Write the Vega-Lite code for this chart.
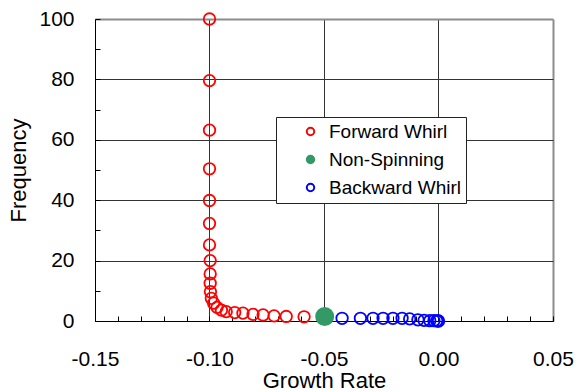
{
  "$schema": "https://vega.github.io/schema/vega-lite/v6.json",
  "width": 458,
  "height": 302,
  "autosize": {"type": "none"},
  "padding": {"left": 95, "top": 19, "right": 33, "bottom": 71},
  "background": "white",
  "config": {
    "view": {"stroke": null},
    "font": "Liberation Sans",
    "axis": {"labelFont": "Liberation Sans", "titleFont": "Liberation Sans", "labelColor": "black", "titleColor": "black", "titleFontWeight": "normal"}
  },
  "data": {
    "values": [
      {"x": -0.1, "y": 100, "type": "Forward Whirl"},
      {"x": -0.1, "y": 79.6, "type": "Forward Whirl"},
      {"x": -0.1, "y": 63.2, "type": "Forward Whirl"},
      {"x": -0.1, "y": 50.4, "type": "Forward Whirl"},
      {"x": -0.1, "y": 39.9, "type": "Forward Whirl"},
      {"x": -0.1, "y": 32.3, "type": "Forward Whirl"},
      {"x": -0.1, "y": 25.2, "type": "Forward Whirl"},
      {"x": -0.0997, "y": 20.0, "type": "Forward Whirl"},
      {"x": -0.0997, "y": 15.6, "type": "Forward Whirl"},
      {"x": -0.0997, "y": 12.5, "type": "Forward Whirl"},
      {"x": -0.0996, "y": 9.7, "type": "Forward Whirl"},
      {"x": -0.0992, "y": 7.5, "type": "Forward Whirl"},
      {"x": -0.0982, "y": 5.9, "type": "Forward Whirl"},
      {"x": -0.0967, "y": 4.5, "type": "Forward Whirl"},
      {"x": -0.0948, "y": 3.6, "type": "Forward Whirl"},
      {"x": -0.0927, "y": 3.1, "type": "Forward Whirl"},
      {"x": -0.089, "y": 2.8, "type": "Forward Whirl"},
      {"x": -0.0854, "y": 2.6, "type": "Forward Whirl"},
      {"x": -0.081, "y": 2.2, "type": "Forward Whirl"},
      {"x": -0.0766, "y": 2.0, "type": "Forward Whirl"},
      {"x": -0.0718, "y": 1.7, "type": "Forward Whirl"},
      {"x": -0.0665, "y": 1.5, "type": "Forward Whirl"},
      {"x": -0.0587, "y": 1.4, "type": "Forward Whirl"},
      {"x": -0.0497, "y": 1.5, "type": "Non-Spinning"},
      {"x": -0.0421, "y": 0.9, "type": "Backward Whirl"},
      {"x": -0.0341, "y": 0.9, "type": "Backward Whirl"},
      {"x": -0.0286, "y": 0.9, "type": "Backward Whirl"},
      {"x": -0.0242, "y": 0.9, "type": "Backward Whirl"},
      {"x": -0.0199, "y": 0.9, "type": "Backward Whirl"},
      {"x": -0.0159, "y": 0.9, "type": "Backward Whirl"},
      {"x": -0.0126, "y": 0.7, "type": "Backward Whirl"},
      {"x": -0.009, "y": 0.4, "type": "Backward Whirl"},
      {"x": -0.0063, "y": 0.2, "type": "Backward Whirl"},
      {"x": -0.0038, "y": 0.1, "type": "Backward Whirl"},
      {"x": -0.002, "y": 0.1, "type": "Backward Whirl"},
      {"x": -0.0008, "y": 0.05, "type": "Backward Whirl"},
      {"x": -0.0002, "y": 0.03, "type": "Backward Whirl"},
      {"x": 0.0, "y": 0.0, "type": "Backward Whirl"}
    ]
  },
  "resolve": {"axis": {"x": "independent", "y": "independent"}},
  "layer": [
    {
      "mark": {"type": "point", "shape": "circle", "strokeWidth": 1.8, "opacity": 1},
      "encoding": {
        "x": {
          "field": "x", "type": "quantitative",
          "scale": {"domain": [-0.15, 0.05], "nice": false, "zero": false},
          "axis": {
            "orient": "bottom",
            "values": [-0.15, -0.1, -0.05, 0, 0.05],
            "labelExpr": "replace(format(datum.value, '.2f'), '\u2212', '-')",
            "title": "Growth Rate",
            "titleFontSize": 22,
            "titleBaseline": "alphabetic",
            "titleY": 66,
            "labelFontSize": 21,
            "labelPadding": 27,
            "ticks": false,
            "tickSize": 0,
            "domainColor": "black",
            "domainWidth": 1,
            "grid": true,
            "gridColor": {"condition": {"test": "datum.value > 0.04", "value": "#8c8c8c"}, "value": "#333333"},
            "gridWidth": {"condition": {"test": "datum.value > 0.04", "value": 2}, "value": 1},
            "labelFlush": false,
            "labelOverlap": false
          }
        },
        "y": {
          "field": "y", "type": "quantitative",
          "scale": {"domain": [0, 100], "nice": false},
          "axis": {
            "orient": "left",
            "values": [0, 20, 40, 60, 80, 100],
            "title": "Frequency",
            "titleFontSize": 22,
            "titleBaseline": "alphabetic",
            "titleX": -70,
            "titleAngle": -90,
            "labelFontSize": 21,
            "labelPadding": 21,
            "ticks": false,
            "tickSize": 0,
            "domainColor": "black",
            "domainWidth": 1,
            "grid": true,
            "gridColor": {"condition": {"test": "datum.value > 99", "value": "#8c8c8c"}, "value": "#333333"},
            "gridWidth": {"condition": {"test": "datum.value > 99", "value": 2}, "value": 1},
            "labelFlush": false,
            "labelOverlap": false
          }
        },
        "stroke": {
          "field": "type", "type": "nominal",
          "scale": {"domain": ["Forward Whirl", "Non-Spinning", "Backward Whirl"], "range": ["#ff0000", "#339966", "#0000ff"]},
          "legend": {
            "title": null,
            "orient": "none",
            "legendX": 181,
            "legendY": 98,
            "fillColor": "white",
            "strokeColor": "#222222",
            "padding": 5,
            "symbolOffset": 20,
            "labelOffset": 9,
            "labelFontSize": 19,
            "labelFont": "Liberation Sans",
            "labelColor": "black",
            "rowPadding": 8,
            "symbolSize": 55,
            "symbolStrokeWidth": 2,
            "symbolType": "circle"
          }
        },
        "fill": {
          "field": "type", "type": "nominal",
          "scale": {"domain": ["Forward Whirl", "Non-Spinning", "Backward Whirl"], "range": ["transparent", "#339966", "transparent"]},
          "legend": {
            "title": null,
            "orient": "none",
            "legendX": 181,
            "legendY": 98,
            "fillColor": "white",
            "strokeColor": "#222222",
            "padding": 5,
            "symbolOffset": 20,
            "labelOffset": 9,
            "labelFontSize": 19,
            "labelFont": "Liberation Sans",
            "labelColor": "black",
            "rowPadding": 8,
            "symbolSize": 55,
            "symbolStrokeWidth": 2,
            "symbolType": "circle"
          }
        },
        "size": {
          "condition": {"test": "datum.type === 'Non-Spinning'", "value": 296},
          "value": 132
        }
      }
    },
    {
      "mark": {"type": "point", "shape": "circle", "opacity": 0, "size": 1},
      "encoding": {
        "x": {
          "field": "x", "type": "quantitative",
          "axis": {
            "orient": "bottom",
            "values": [-0.15, -0.14, -0.13, -0.12, -0.11, -0.1, -0.09, -0.08, -0.07, -0.06, -0.05, -0.04, -0.03, -0.02, -0.01, 0, 0.01, 0.02, 0.03, 0.04, 0.05],
            "labels": false,
            "domain": false,
            "grid": false,
            "title": null,
            "ticks": true,
            "tickSize": -5,
            "tickColor": "black",
            "tickWidth": 1
          }
        },
        "y": {
          "field": "y", "type": "quantitative",
          "axis": {
            "orient": "left",
            "values": [0, 10, 20, 30, 40, 50, 60, 70, 80, 90, 100],
            "labels": false,
            "domain": false,
            "grid": false,
            "title": null,
            "ticks": true,
            "tickSize": -5,
            "tickColor": "black",
            "tickWidth": 1
          }
        }
      }
    }
  ]
}
